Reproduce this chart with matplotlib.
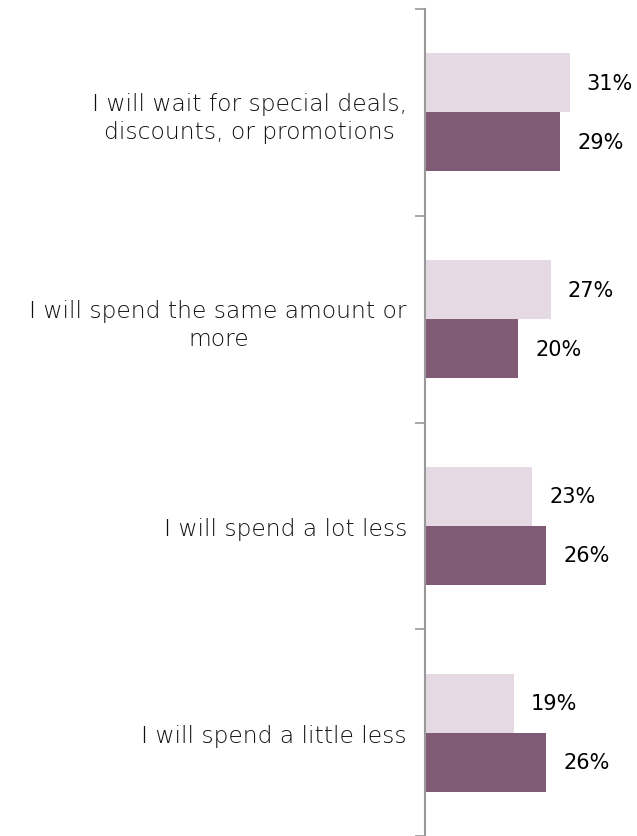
import numpy as np
import matplotlib.pyplot as plt

# categories (top to bottom) and the two series
categories = ["I will wait for special deals,\ndiscounts, or promotions",
              "I will spend the same amount or\nmore",
              "I will spend a lot less",
              "I will spend a little less"]
series_light = [31, 27, 23, 19]
series_dark = [29, 20, 26, 26]

c_light = "#E5DAE3"
c_dark = "#815B76"

fig = plt.figure(figsize=(6.37, 8.37), dpi=100)
ax = fig.add_axes([425/637, 0, 1 - 425/637, 1 - 10/837])

y = np.arange(len(categories))
h = 0.285
ax.barh(y - h/2, series_light, height=h, color=c_light)
ax.barh(y + h/2, series_dark, height=h, color=c_dark)

for yi, v in zip(y, series_light):
    ax.text(v + 3.6, yi - h/2, f"{v}%", va="center", ha="left",
            fontsize=15, family="DejaVu Sans", color="black")
for yi, v in zip(y, series_dark):
    ax.text(v + 3.6, yi + h/2, f"{v}%", va="center", ha="left",
            fontsize=15, family="DejaVu Sans", color="black")

ax.set_xlim(0, 212/4.67)
ax.set_ylim(len(categories) - 0.5, -0.5)

# tick marks at group boundaries, labels at group centers
ax.set_yticks(np.arange(len(categories) + 1) - 0.5)
ax.set_yticklabels([])
ax.set_yticks(y, minor=True)
ax.set_yticklabels(categories, minor=True, fontsize=16.8, family="DejaVu Sans",
                   fontweight="light", multialignment="center",
                   color="#111111", linespacing=1.3)
ax.tick_params(axis="y", which="major", length=7, width=1.2, color="#999999")
ax.tick_params(axis="y", which="minor", length=0, pad=13)
ax.set_xticks([])

for s in ["top", "right", "bottom"]:
    ax.spines[s].set_visible(False)
ax.spines["left"].set_color("#999999")
ax.spines["left"].set_linewidth(1.5)

fig.savefig("out.png", dpi=100)
